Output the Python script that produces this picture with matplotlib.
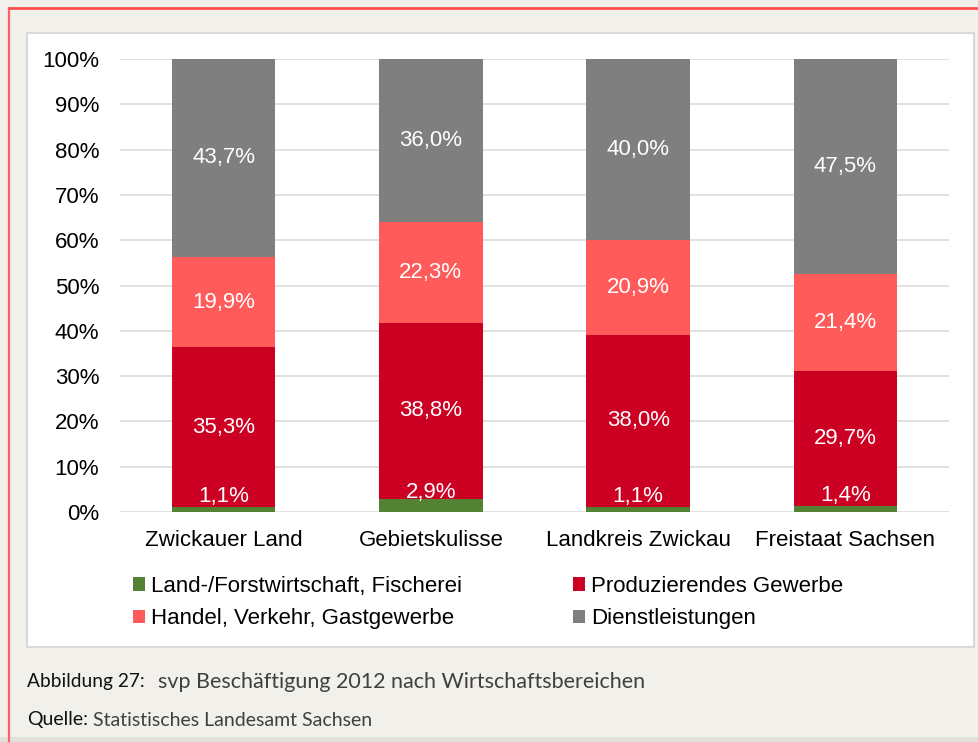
import matplotlib.pyplot as plt
import numpy as np
from matplotlib.patches import Patch, Rectangle
from matplotlib.lines import Line2D

# data (share of employees, %)
regions = ['Zwickauer Land', 'Gebietskulisse', 'Landkreis Zwickau', 'Freistaat Sachsen']
land = [1.1, 2.9, 1.1, 1.4]
prod = [35.3, 38.8, 38.0, 29.7]
handel = [19.9, 22.3, 20.9, 21.4]
dienst = [43.7, 36.0, 40.0, 47.5]

sectors = ['Land-/Forstwirtschaft, Fischerei', 'Produzierendes Gewerbe',
           'Handel, Verkehr, Gastgewerbe', 'Dienstleistungen']
colors = ['#548235', '#cc0022', '#ff5b5b', '#7f7f7f']
yticks = [0, 10, 20, 30, 40, 50, 60, 70, 80, 90, 100]

plt.rcParams['font.family'] = ['Liberation Sans', 'DejaVu Sans']

W, H = 979, 742
fig = plt.figure(figsize=(W / 100, H / 100), dpi=100)
fig.patch.set_facecolor('#f2f0eb')


def fx(px):
    return px / W


def fy(py):
    return 1 - py / H


# page decoration: white chart box, red frame, dark bottom strip
fig.add_artist(Rectangle((fx(27), fy(647)), fx(974) - fx(27), fy(33) - fy(647),
                         transform=fig.transFigure, facecolor='white',
                         edgecolor='#d9d9d9', lw=1.5, zorder=-2))
fig.add_artist(Rectangle((0, 0), 1, fy(737), transform=fig.transFigure,
                         facecolor='#e2e0db', edgecolor='none', zorder=-3))
fig.add_artist(Line2D([fx(9), 1], [fy(8), fy(8)], color='#ff4d4d', lw=2, zorder=-1))
fig.add_artist(Line2D([fx(9), fx(9)], [fy(8), 0], color='#ff6060', lw=1.6, zorder=-1))

ax = fig.add_axes([fx(120), fy(512), fx(949) - fx(120), fy(59) - fy(512)])
ax.set_facecolor('none')

x = np.arange(len(regions))
bottom = np.zeros(len(regions))
handles = []
for i, (name, vals, c) in enumerate(zip(sectors, [land, prod, handel, dienst], colors)):
    vals = np.array(vals)
    ax.bar(x, vals, 0.5, bottom=bottom, color=c, zorder=2)
    handles.append(Patch(facecolor=c, label=name))
    for xi, b, v in zip(x, bottom, vals):
        txt = f"{v:.1f}%".replace('.', ',')
        if i == 0:
            ypos = b + v / 2 + 2.9
        else:
            ypos = b + v / 2
        ax.text(xi, ypos, txt, ha='center', va='center', color='white',
                fontsize=16, zorder=3)
    bottom += vals

ax.set_xlim(-0.5, len(regions) - 0.5)
ax.set_ylim(0, 100)
ax.set_yticks(yticks)
ax.set_yticklabels([f"{t}%" for t in yticks])
ax.set_xticks(x)
ax.set_xticklabels(regions)
ax.tick_params(axis='y', length=0, labelsize=16, pad=15)
ax.tick_params(axis='x', length=0, labelsize=16, pad=13)
ax.yaxis.grid(True, color='#dedede', lw=1.3, zorder=0)
ax.set_axisbelow(True)
for s in ax.spines.values():
    s.set_visible(False)

# legend: column-wise fill -> Land, Handel | Produz, Dienst
order = [0, 2, 1, 3]
fig.legend([handles[k] for k in order], [sectors[k] for k in order],
           ncol=2, loc='upper left', bbox_to_anchor=(fx(133), fy(576)),
           frameon=False, fontsize=16, handlelength=0.55, handleheight=0.55,
           handletextpad=0.25, columnspacing=5.0, labelspacing=0.5, borderpad=0,
           borderaxespad=0)

# caption
fig.text(fx(27), fy(682), 'Abbildung 27:', fontsize=13.8, color='#111111',
         family='Lato', va='center', ha='left')
fig.text(fx(158), fy(682), 'svp Beschäftigung 2012 nach Wirtschaftsbereichen',
         fontsize=15.5, color='#404040', family='Lato', va='center', ha='left')
fig.text(fx(27), fy(720), 'Quelle:', fontsize=14, color='#111111',
         family='Lato', va='center', ha='left')
fig.text(fx(93), fy(720), 'Statistisches Landesamt Sachsen', fontsize=14,
         color='#404040', family='Lato', va='center', ha='left')

fig.savefig('out.png', dpi=100, facecolor=fig.get_facecolor())
